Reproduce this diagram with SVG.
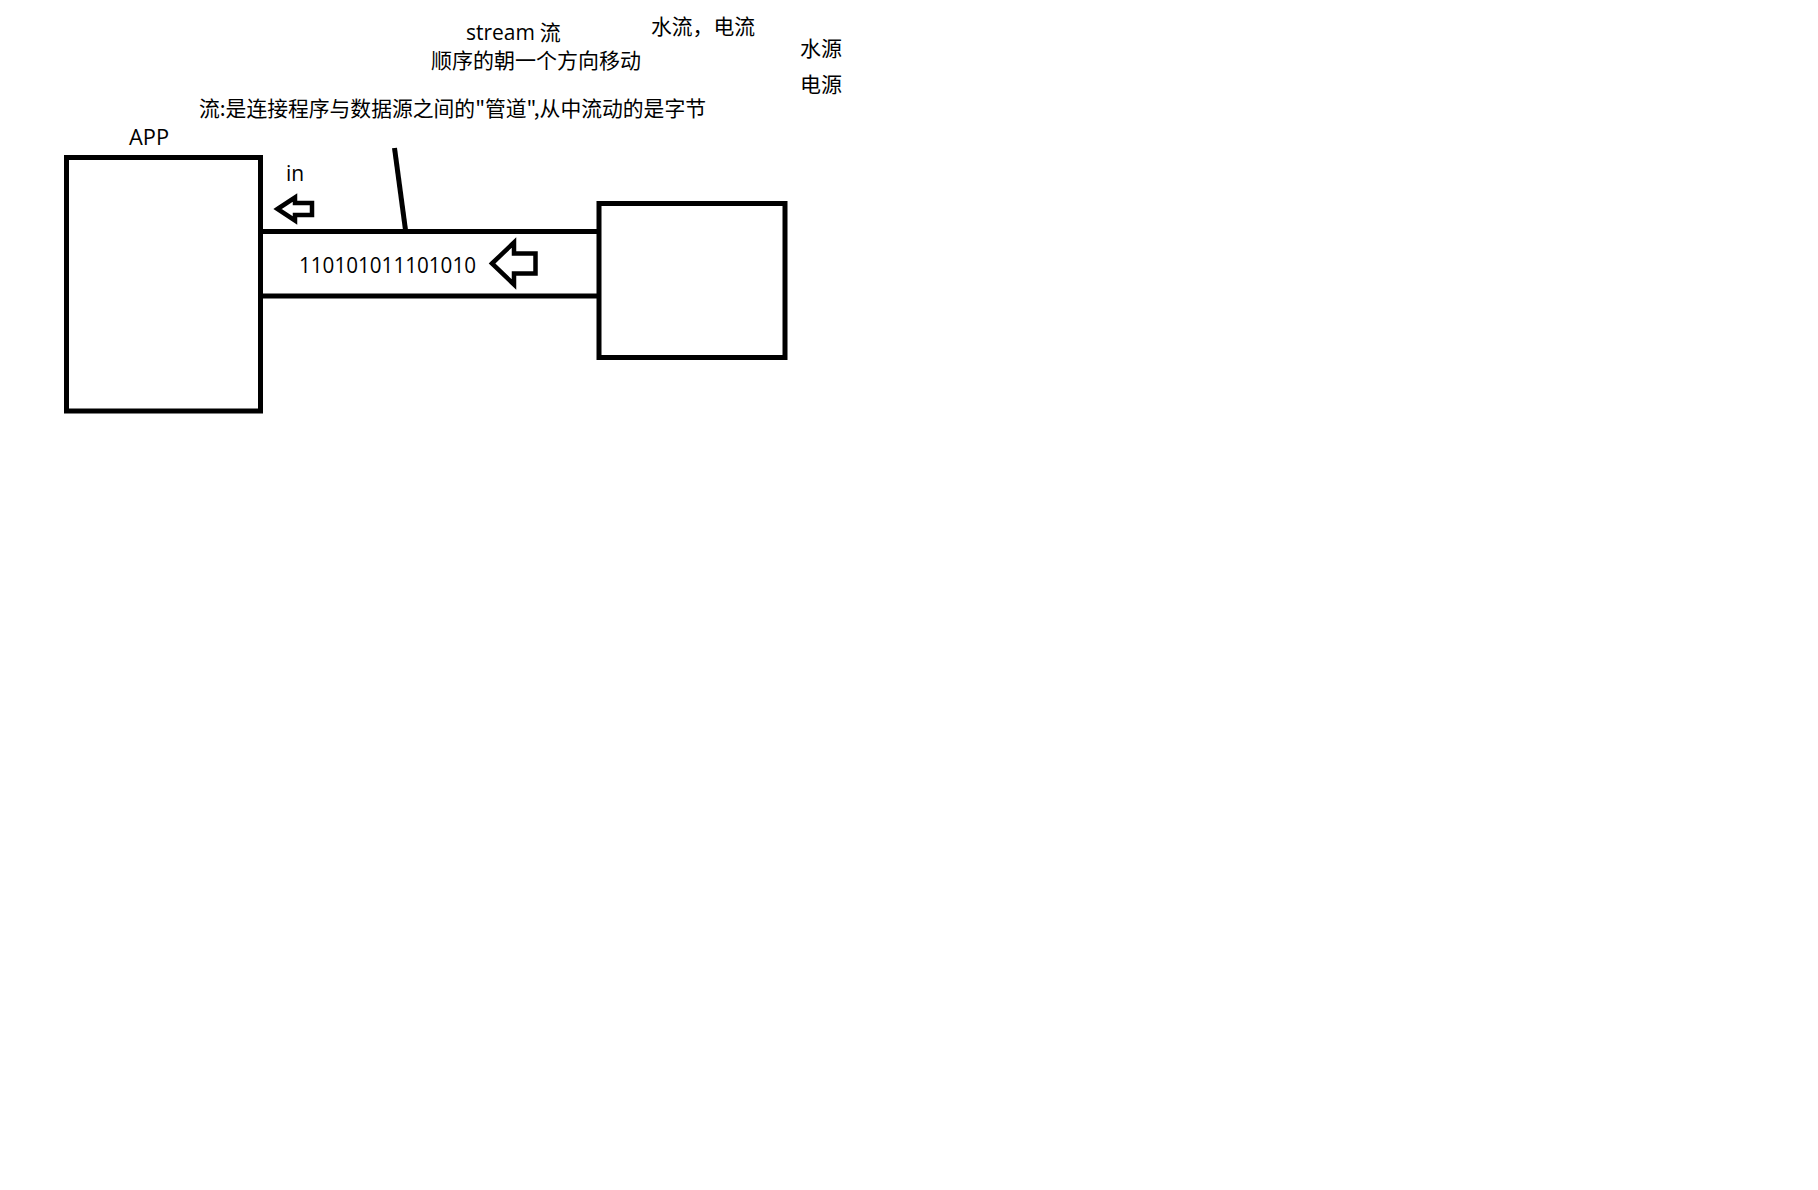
<svg xmlns="http://www.w3.org/2000/svg" width="1818" height="1190" viewBox="0 0 1818 1190">
<style>
  .box { fill: #ffffff; stroke: #000000; stroke-width: 5; }
  .ln { stroke: #000000; stroke-width: 5; fill: none; }
  .arr { fill: #ffffff; stroke: #000000; stroke-width: 4.5; stroke-linejoin: miter; }
  .t { font-family: "Open Sans", "Noto Sans CJK SC", sans-serif; font-size: 21px; fill: #000000; }
  .c { font-family: "Noto Sans CJK SC", sans-serif; font-size: 21px; fill: #000000; }
</style>
<rect width="1818" height="1190" fill="#ffffff"/>

<g id="app">
  <rect class="box" x="66.5" y="157.5" width="194" height="253.5"/>
  <line x1="262" y1="318" x2="262" y2="373" stroke="#000000" stroke-width="2"/>
  <text class="t" x="129" y="145" textLength="40" lengthAdjust="spacingAndGlyphs">APP</text>
</g>

<g id="source">
  <rect class="box" x="599" y="203.5" width="186" height="154"/>
</g>

<g id="pipe">
  <line class="ln" x1="260" y1="231.5" x2="599" y2="231.5"/>
  <line class="ln" x1="260" y1="296" x2="599" y2="296"/>
  <text class="t" x="299" y="273" textLength="177" lengthAdjust="spacingAndGlyphs">110101011101010</text>
</g>

<g id="connectors">
  <line class="ln" x1="394.5" y1="148" x2="405.5" y2="230"/>
  <path class="arr" d="M492,263.5 L514,242.5 L514,253.5 L535.5,253.5 L535.5,273.5 L514,273.5 L514,284.5 Z"/>
  <path class="arr" d="M277.5,209 L295,197.5 L295,203 L312,203 L312,215 L295,215 L295,220.5 Z"/>
</g>

<g id="labels">
  <text class="t" x="286" y="181">in</text>
  <text class="c" x="466" y="40"><tspan font-family="Open Sans, sans-serif">stream</tspan> 流</text>
  <text class="c" x="431" y="67.5" textLength="210" lengthAdjust="spacingAndGlyphs">顺序的朝一个方向移动</text>
  <text class="c" x="651" y="33.5" textLength="104" lengthAdjust="spacingAndGlyphs">水流，电流</text>
  <text class="c" x="800" y="55.5">水源</text>
  <text class="c" x="800" y="91.5">电源</text>
  <text class="c" x="199" y="115.5" textLength="507" lengthAdjust="spacingAndGlyphs">流:是连接程序与数据源之间的"管道",从中流动的是字节</text>
</g>
</svg>
